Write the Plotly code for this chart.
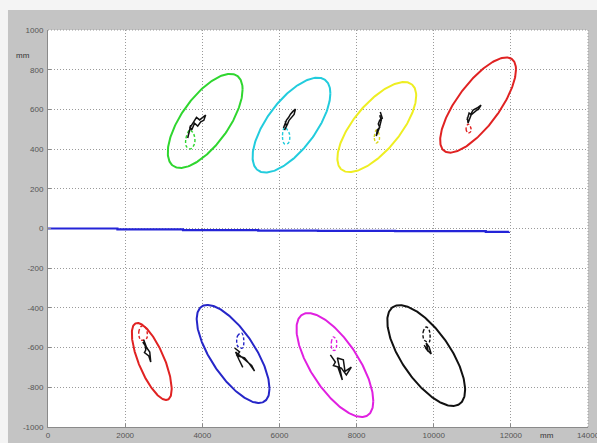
import numpy as np
import plotly.graph_objects as go

# --- confidence ellipses: centre, half-extent in x / y (mm), phase (deg) ---
ell_names = ["g1", "c1", "y1", "r1", "r2", "b2", "m2", "k2"]
ell_colors = ["#2fd62f", "#22ccdd", "#eeee22", "#e02222",
              "#e02222", "#2626c8", "#e020e0", "#111111"]
ell_cx = [4075, 6312, 8524, 11150, 2690, 4799, 7438, 9805]
ell_cy = [542, 521, 511, 622, -670, -632, -688, -640]
ell_ax = [970, 1009, 1022, 983, 517, 944, 996, 1009]
ell_ay = [237, 239, 227, 240, 194, 247, 262, 254]
ell_phase = [48, 48, 46, 42, 136, 135, 134, 133]

# --- measured tracks (black) and reference loops (dashed, ellipse colour) ---
track_x = [
    [3622, 3660, 3700, 3674, 3777, 3850, 3932, 4010, 4087, 4040, 3960, 3881, 3800, 3725, 3690, 3648],
    [6105, 6160, 6183, 6240, 6286, 6350, 6416, 6380, 6312, 6250, 6209, 6131, 6183, 6150],
    [8615, 8667, 8600, 8563, 8600, 8537, 8511, 8560, 8589, 8641, 8600],
    [10865, 10917, 10960, 11021, 11124, 11227, 11160, 11124, 10969, 10891, 10870],
    [2458, 2520, 2535, 2500, 2613, 2664, 2638, 2590, 2509, 2561, 2480],
    [4838, 4967, 4900, 5097, 5226, 5355, 5280, 5174, 4967, 4864, 4950, 5050],
    [7321, 7450, 7400, 7605, 7735, 7864, 7700, 7657, 7502, 7580, 7631, 7520],
    [9753, 9831, 9934, 9882, 9805, 9860, 9780],
]
track_y = [
    [456, 490, 520, 506, 537, 560, 547, 560, 572, 545, 537, 516, 530, 496, 510, 476],
    [506, 530, 546, 560, 576, 590, 602, 575, 556, 545, 526, 496, 516, 540],
    [587, 556, 545, 526, 510, 496, 466, 490, 506, 546, 570],
    [546, 582, 575, 597, 607, 622, 600, 597, 572, 531, 560],
    [-572, -590, -612, -625, -642, -673, -622, -610, -587, -602, -560],
    [-602, -622, -640, -652, -683, -718, -690, -673, -642, -622, -660, -700],
    [-637, -673, -690, -703, -738, -698, -720, -662, -652, -723, -763, -700],
    [-587, -612, -632, -597, -577, -620, -600],
]
loop_x = [
    [3674, 3570, 3596, 3700, 3803, 3777, 3674],
    [6131, 6079, 6131, 6235, 6260, 6131],
    [8511, 8459, 8511, 8589, 8563, 8511],
    [10891, 10839, 10891, 10969, 10943, 10891],
    [2406, 2354, 2432, 2535, 2561, 2406],
    [4915, 4915, 5019, 5071, 5045, 4915],
    [7373, 7347, 7399, 7476, 7450, 7373],
    [9753, 9727, 9805, 9882, 9882, 9753],
]
loop_y = [
    [496, 446, 411, 401, 431, 476, 496],
    [511, 461, 426, 431, 476, 511],
    [496, 456, 431, 446, 486, 496],
    [526, 501, 481, 491, 516, 526],
    [-562, -521, -491, -501, -552, -562],
    [-592, -541, -526, -552, -602, -592],
    [-612, -572, -546, -562, -612, -612],
    [-562, -521, -496, -511, -572, -562],
]

# --- nominal path along y = 0 ---
path_x = [0, 1800, 3500, 5450, 7000, 9000, 11350, 11950]
path_y = [0, -4, -8, -11, -12, -13, -17, -16]

x_ticks = [0, 2000, 4000, 6000, 8000, 10000, 12000, 14000]
y_ticks = [-1000, -800, -600, -400, -200, 0, 200, 400, 600, 800, 1000]

fig = go.Figure()

t = np.linspace(0, 2 * np.pi, 241)
for i in range(len(ell_names)):
    ph = np.deg2rad(ell_phase[i])
    fig.add_trace(go.Scatter(
        x=ell_cx[i] + ell_ax[i] * np.cos(t),
        y=ell_cy[i] + ell_ay[i] * np.cos(t + ph),
        mode="lines", line=dict(color=ell_colors[i], width=2),
        hoverinfo="skip"))
    fig.add_trace(go.Scatter(
        x=loop_x[i], y=loop_y[i], mode="lines",
        line=dict(color=ell_colors[i] if ell_colors[i] != "#eeee22" else "#d8d820",
                  width=1.4, dash="3px,2px", shape="spline"),
        hoverinfo="skip"))
    fig.add_trace(go.Scatter(
        x=track_x[i], y=track_y[i], mode="lines",
        line=dict(color="#111111", width=1.5),
        hoverinfo="skip"))

fig.add_trace(go.Scatter(
    x=path_x, y=path_y, mode="lines",
    line=dict(color="#2424d8", width=2.2, shape="hv"),
    hoverinfo="skip"))

axis_common = dict(
    showgrid=True, gridcolor="#9a9a9a", griddash="1px,2px", gridwidth=1,
    zeroline=False, showline=True, linecolor="#8a8a8a", linewidth=1,
    mirror=False, ticks="inside", ticklen=3, tickcolor="#8a8a8a",
    ticklabeloverflow="allow", automargin=False,
    tickfont=dict(family="Liberation Sans, Arial", size=8, color="#555555"),
)

edge_line = dict(color="#9a9a9a", width=1, dash="1px,2px")

fig.update_layout(
    width=597, height=443,
    margin=dict(l=48, r=9, t=30, b=16),
    paper_bgcolor="#c4c4c4",
    plot_bgcolor="#ffffff",
    showlegend=False,
    xaxis=dict(range=[0, 14000], tickvals=x_ticks,
               ticktext=[str(v) for v in x_ticks], **axis_common),
    yaxis=dict(range=[-1000, 1000], tickvals=y_ticks,
               ticktext=[str(v) for v in y_ticks], ticklabelstandoff=2,
               **axis_common),
    shapes=[
        # light window strips along the top and left edge
        dict(type="rect", xref="paper", yref="paper", layer="below",
             x0=-0.1, x1=1.03, y0=1.0504, y1=1.08,
             fillcolor="#f4f4f4", line=dict(width=0)),
        dict(type="rect", xref="paper", yref="paper", layer="below",
             x0=-0.1, x1=-0.0741, y0=-0.05, y1=1.08,
             fillcolor="#f4f4f4", line=dict(width=0)),
        # dotted frame on the top and right edges of the axes box
        dict(type="line", xref="paper", yref="paper", x0=0, x1=1, y0=1, y1=1,
             line=edge_line),
        dict(type="line", xref="paper", yref="paper", x0=1, x1=1, y0=0, y1=1,
             line=edge_line),
    ],
    annotations=[
        dict(text="mm", xref="paper", yref="paper", x=-0.046, y=0.937,
             showarrow=False, xanchor="center", yanchor="middle",
             font=dict(family="Liberation Sans, Arial", size=8, color="#333333")),
        dict(text="mm", xref="paper", yref="paper", x=0.924, y=-0.022,
             showarrow=False, xanchor="center", yanchor="middle",
             font=dict(family="Liberation Sans, Arial", size=8, color="#333333")),
    ],
)

fig.write_html("out.html")
